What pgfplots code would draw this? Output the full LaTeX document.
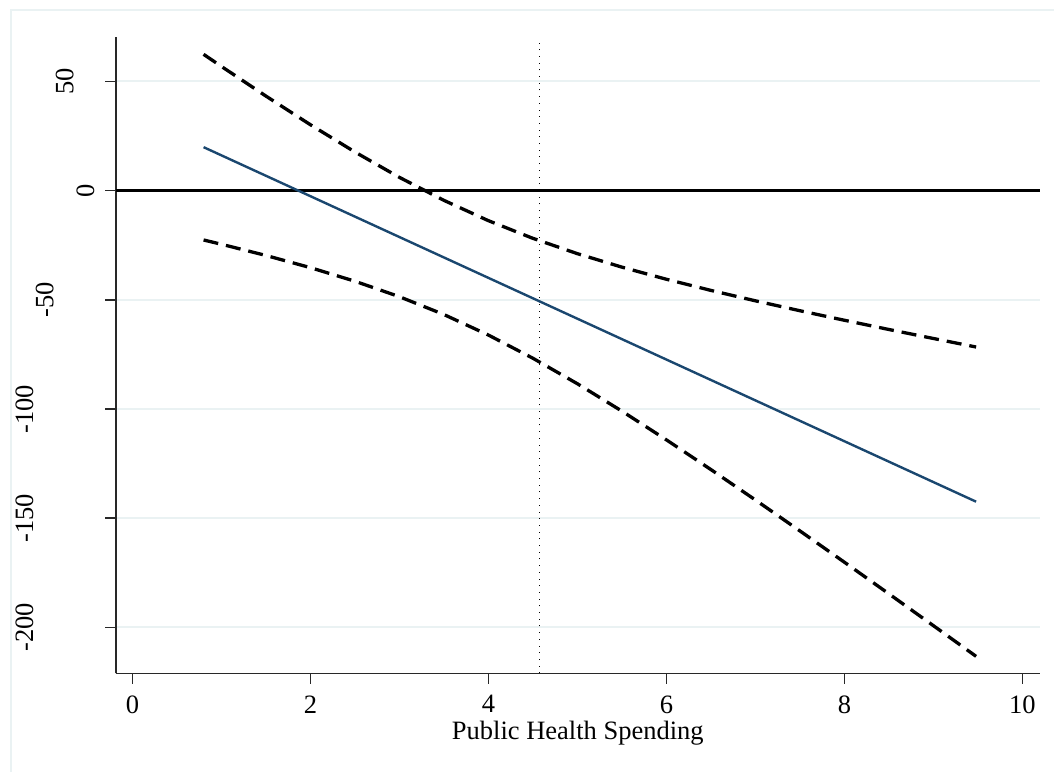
\documentclass[border=0pt]{standalone}
\usepackage{fontspec}
\setmainfont{Liberation Serif}
\usepackage{pgfplots}
\pgfplotsset{compat=1.18}
\definecolor{stblue}{RGB}{26,71,111}
\definecolor{gridc}{RGB}{234,242,243}
\definecolor{axc}{RGB}{40,40,40}
\newcommand\tf{\fontsize{26.5}{31}\selectfont}
\begin{document}
\begin{tikzpicture}
\useasboundingbox (0pt,0pt) rectangle (1054pt,-772pt);
\draw[gridc, line width=2pt] (11pt,-772pt) -- (11pt,-10pt) -- (1054pt,-10pt);
\begin{axis}[
  at={(115.7pt,-673.3pt)}, anchor=south west,
  scale only axis, width=924.3pt, height=636pt,
  xmin=-0.1876, xmax=10.198, ymin=-221.0, ymax=70.2,
  axis x line*=bottom, axis y line*=left, axis line style={-, axc, line width=1.6pt},
  xtick pos=bottom, ytick pos=left,
  xtick={0,2,4,6,8,10}, ytick={-200,-150,-100,-50,0,50},
  xticklabels={0,2,4,6,8,10},
  yticklabels={\raisebox{72pt}{-200},\raisebox{72pt}{-150},\raisebox{72pt}{-100},\raisebox{51.7pt}{-50},\raisebox{11pt}{0},\raisebox{31.7pt}{50}},
  tick align=outside, major tick length=10.5pt,
  every tick/.style={axc, line width=1.6pt},
  ymajorgrids, grid style={gridc, line width=2pt},
  tick label style={font=\tf, inner sep=0pt},
  yticklabel style={rotate=90, anchor=south},
  xticklabel style={anchor=north, yshift=-11.5pt},
  xlabel={Public Health Spending},
  xlabel style={font=\tf, at={(axis description cs:0.5,0)}, anchor=base, yshift=-66pt, inner sep=0pt},
]
\addplot[black, line width=2.8pt] coordinates {(-0.1876,0) (10.198,0)};
\addplot[black, line width=0.9pt, dash pattern=on 1pt off 5.7pt] coordinates {(4.57,-221) (4.57,68.7)};
\addplot[black, line width=3.3pt, dash pattern=on 15pt off 8pt] coordinates {
(0.8,62.40) (1,56.87) (1.5,43.30) (2,30.18) (2.5,17.70) (3,6.08) (3.5,-4.45)
(4,-13.76) (4.5,-21.84) (5,-28.86) (5.5,-35.03) (6,-40.58) (6.5,-45.68)
(7,-50.45) (7.5,-54.99) (8,-59.35) (8.5,-63.58) (9,-67.70) (9.48,-71.60)};
\addplot[black, line width=3.3pt, dash pattern=on 15pt off 8pt] coordinates {
(0.8,-22.60) (1,-24.55) (1.5,-29.68) (2,-35.26) (2.5,-41.48) (3,-48.56) (3.5,-56.73)
(4,-66.12) (4.5,-76.74) (5,-88.42) (5.5,-100.95) (6,-114.10) (6.5,-127.70)
(7,-141.63) (7.5,-155.79) (8,-170.13) (8.5,-184.60) (9,-199.18) (9.48,-213.24)};
\addplot[stblue, line width=2.4pt] coordinates {(0.8,19.90) (9.48,-142.42)};
\end{axis}
\end{tikzpicture}
\end{document}
